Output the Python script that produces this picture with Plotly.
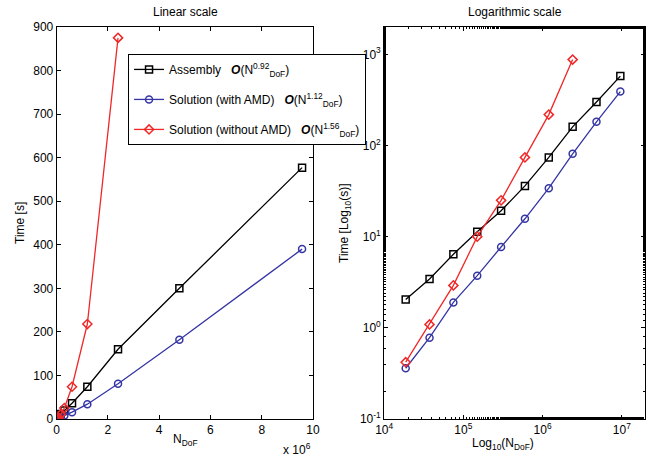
import plotly.graph_objects as go

n_dof = [18700, 37400, 74800, 149600, 299200, 598400, 1196800, 2393600, 4787200, 9574400]
t_assembly = [2.05, 3.43, 6.4, 11.3, 19.2, 36, 74, 160, 300, 577]
t_amd = [0.36, 0.78, 1.9, 3.73, 7.7, 15.7, 34, 81, 182, 390]
t_noamd = [0.42, 1.09, 2.92, 10.0, 25, 74, 218, 875]

names = [
    "Assembly   <b><i>O</i></b>(N<sup>0.92</sup><sub>DoF</sub>)",
    "Solution (with AMD)   <b><i>O</i></b>(N<sup>1.12</sup><sub>DoF</sub>)",
    "Solution (without AMD)   <b><i>O</i></b>(N<sup>1.56</sup><sub>DoF</sub>)",
]
colors = ["#000000", "#3535a5", "#f02828"]
symbols = ["square-open", "circle-open", "diamond-open"]
series = [t_assembly, t_amd, t_noamd]

lin_xticks = [0, 2e6, 4e6, 6e6, 8e6, 10e6]
lin_xtext = ["0", "2", "4", "6", "8", "10"]
log_xticks = [1e4, 1e5, 1e6, 1e7]
log_xtext = ["10<sup>4</sup>", "10<sup>5</sup>", "10<sup>6</sup>", "10<sup>7</sup>"]
log_yticks = [1e-1, 1e0, 1e1, 1e2, 1e3]
log_ytext = ["10<sup>-1</sup>", "10<sup>0</sup>", "10<sup>1</sup>", "10<sup>2</sup>", "10<sup>3</sup>"]

fig = go.Figure()
for i, (name, c, s, y) in enumerate(zip(names, colors, symbols, series)):
    x = n_dof[:len(y)]
    fig.add_trace(go.Scatter(x=x, y=y, mode="lines+markers", name=name,
                             line=dict(color=c, width=1.3),
                             marker=dict(symbol=s, size=7, color=c, line=dict(width=1.5, color=c)),
                             xaxis="x", yaxis="y", legendgroup=f"g{i}", showlegend=True))
    fig.add_trace(go.Scatter(x=x, y=y, mode="lines+markers", name=name,
                             line=dict(color=c, width=1.3),
                             marker=dict(symbol=s, size=7, color=c, line=dict(width=1.5, color=c)),
                             xaxis="x2", yaxis="y2", legendgroup=f"g{i}", showlegend=False))

axis_common = dict(showline=True, linecolor="black", linewidth=1, mirror="ticks",
                   ticks="inside", ticklen=4, tickcolor="black", showgrid=False,
                   zeroline=False, automargin=False, tickfont=dict(size=12, color="black"))

fig.update_layout(
    width=650, height=457,
    margin=dict(l=0, r=0, t=0, b=0),
    paper_bgcolor="white", plot_bgcolor="white",
    font=dict(family="Liberation Sans, Arial, sans-serif", size=12, color="black"),
    xaxis=dict(domain=[0.0872, 0.4815], range=[0, 10e6], tickvals=lin_xticks, ticktext=lin_xtext,
               anchor="y", **axis_common),
    yaxis=dict(domain=[0.0832, 0.941], range=[0, 900], dtick=100, anchor="x",
               **axis_common),
    xaxis2=dict(domain=[0.591, 0.992], type="log", range=[4, 7.29], tickvals=log_xticks,
                ticktext=log_xtext, anchor="y2",
                minor=dict(ticks="inside", ticklen=2, tickcolor="black", showgrid=False),
                **axis_common),
    yaxis2=dict(domain=[0.0832, 0.941], type="log", range=[-1, 3.3], tickvals=log_yticks,
                ticktext=log_ytext, anchor="x2",
                minor=dict(ticks="inside", ticklen=2, tickcolor="black", showgrid=False),
                **axis_common),
    legend=dict(x=0.197, y=0.882, xanchor="left", yanchor="top", bgcolor="white",
                bordercolor="black", borderwidth=1, font=dict(size=12),
                tracegroupgap=11, traceorder="grouped", itemwidth=30),
)

# annotations placed in pixel units, converted to paper coordinates
ann_specs = [
    ("Linear scale", 185, 12, 0),
    ("Logarithmic scale", 515, 12, 0),
    ("N<sub>DoF</sub>", 185, 440, 0),
    ("x 10<sup>6</sup>", 297, 449, 0),
    ("Log<sub>10</sub>(N<sub>DoF</sub>)", 503, 444, 0),
    ("Time [s]", 20, 223, -90),
    ("Time [Log<sub>10</sub>(s)]", 345, 223, -90),
]
fig.layout.annotations = [
    dict(text=t, x=px / 650, y=1 - py / 457, xref="paper", yref="paper", showarrow=False,
         font=dict(size=12), xanchor="center", yanchor="middle", textangle=ang)
    for t, px, py, ang in ann_specs
]

fig.write_html("out.html", config={"displayModeBar": False},
               post_script="document.body.style.margin='0px';document.body.style.overflow='hidden';")
